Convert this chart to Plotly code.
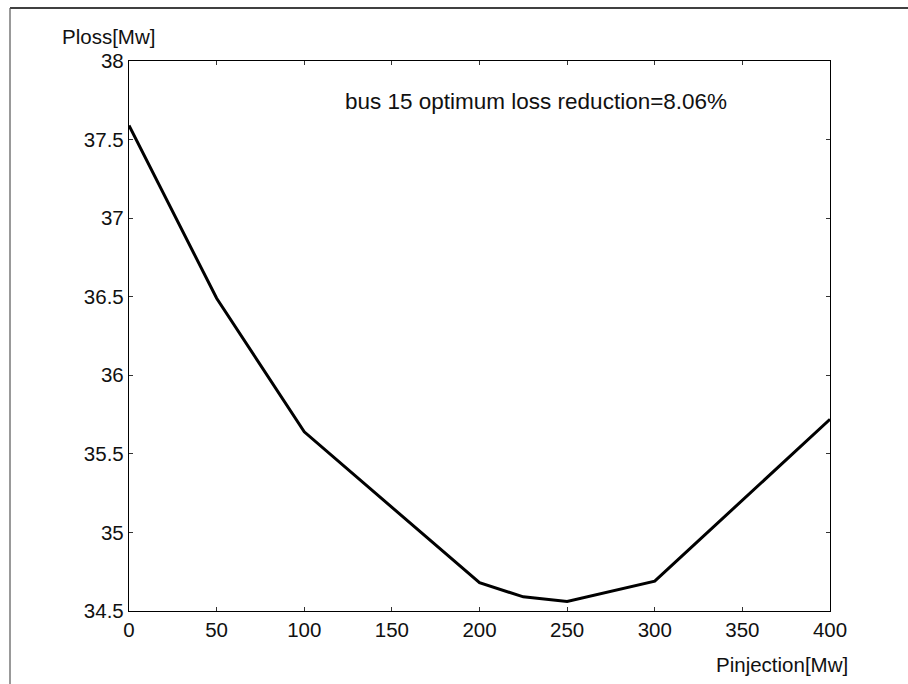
import plotly.graph_objects as go

# Data
p_injection = [0, 50, 100, 200, 225, 250, 300, 400]
p_loss = [37.59, 36.49, 35.64, 34.68, 34.59, 34.56, 34.69, 35.72]

x_ticks = [0, 50, 100, 150, 200, 250, 300, 350, 400]
y_ticks = [34.5, 35, 35.5, 36, 36.5, 37, 37.5, 38]
y_tick_text = ["34.5", "35", "35.5", "36", "36.5", "37", "37.5", "38"]

annotation_text = "bus 15 optimum loss reduction=8.06%"
x_title = "Pinjection[Mw]"
y_title = "Ploss[Mw]"

FONT = "Liberation Sans, Arial, sans-serif"
FS = 20.5

fig = go.Figure()
fig.add_trace(go.Scatter(
    x=p_injection, y=p_loss, mode="lines",
    line=dict(color="black", width=3),
    showlegend=False, hoverinfo="skip",
))

axis_common = dict(
    showgrid=False, zeroline=False,
    showline=True, linecolor="black", linewidth=1.3,
    mirror="ticks", ticks="inside", ticklen=4, tickwidth=1, tickcolor="#333",
    tickfont=dict(family=FONT, size=FS, color="#111"),
)

fig.update_xaxes(range=[0, 400], tickvals=x_ticks, **axis_common)
fig.update_yaxes(range=[34.5, 38], tickvals=y_ticks, ticktext=y_tick_text, **axis_common)

W, H = 908, 684
L, R, T, B = 129, 78, 61, 73
pw, ph = W - L - R, H - T - B

def px_x(x):
    return (x - L) / pw

def px_y(y):
    return (H - B - y) / ph

fig.update_layout(
    width=W, height=H,
    margin=dict(l=L, r=R, t=T, b=B, pad=0),
    paper_bgcolor="white", plot_bgcolor="white",
    font=dict(family=FONT, size=FS, color="#111"),
    annotations=[
        dict(x=px_x(343), y=px_y(101), xref="paper", yref="paper", text=annotation_text,
             showarrow=False, xanchor="left", yanchor="middle",
             font=dict(family=FONT, size=22.5, color="#111")),
        dict(x=px_x(108), y=px_y(37), xref="paper", yref="paper", text=y_title,
             showarrow=False, xanchor="center", yanchor="middle",
             font=dict(family=FONT, size=FS, color="#111")),
        dict(x=px_x(782), y=px_y(664), xref="paper", yref="paper", text=x_title,
             showarrow=False, xanchor="center", yanchor="middle",
             font=dict(family=FONT, size=FS, color="#111")),
    ],
    shapes=[
        dict(type="line", xref="paper", yref="paper",
             x0=px_x(10), x1=px_x(908), y0=px_y(8), y1=px_y(8),
             line=dict(color="black", width=1.5)),
        dict(type="line", xref="paper", yref="paper",
             x0=px_x(10), x1=px_x(10), y0=px_y(8), y1=px_y(684),
             line=dict(color="#555", width=1.2)),
    ],
)

fig.write_html("out.html")
